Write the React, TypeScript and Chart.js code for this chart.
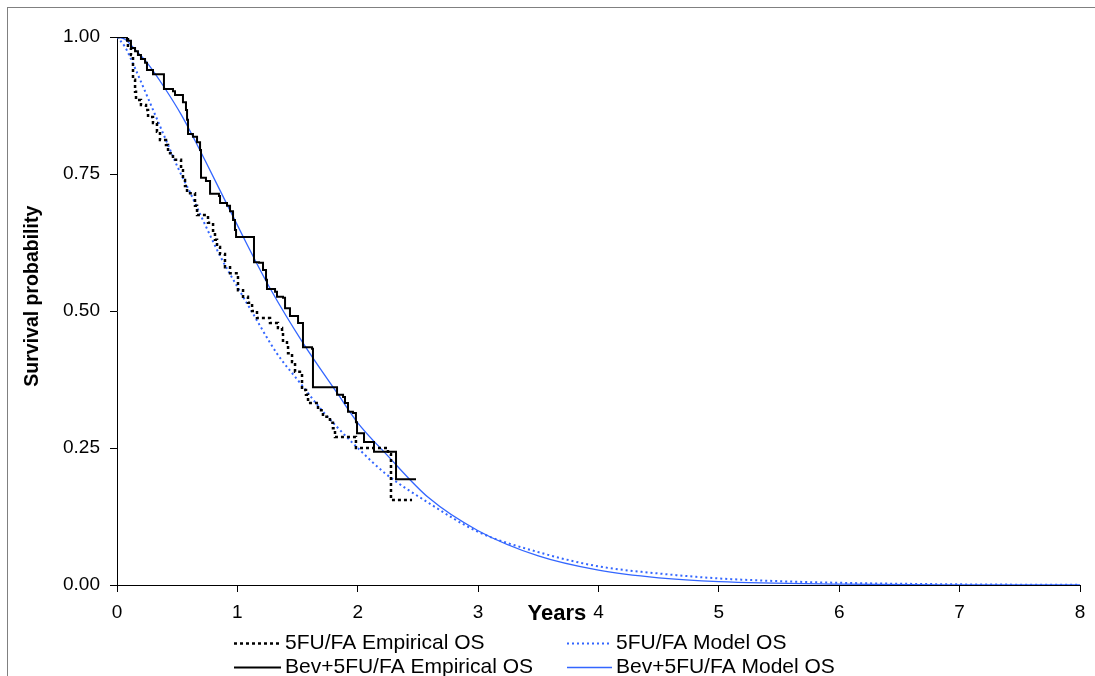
import React, { useEffect, useRef } from "react";
import { Chart, registerables } from "chart.js";

Chart.register(...registerables);

// ---------- DATA ----------
const xTickValues = [0, 1, 2, 3, 4, 5, 6, 7, 8];
const yTickValues = [0, 0.25, 0.5, 0.75, 1];

const seriesLabels = [
  "5FU/FA Empirical OS",
  "5FU/FA Model OS",
  "Bev+5FU/FA Empirical OS",
  "Bev+5FU/FA Model OS",
];
const xTitle = "Years";
const yTitle = "Survival probability";

// 5FU/FA Kaplan-Meier (empirical) – step times (years) and survival after each step
const fuEmpTime = [
  0, 0.091, 0.116, 0.133, 0.15, 0.158, 0.199, 0.241, 0.258, 0.299,
  0.332, 0.357, 0.407, 0.424, 0.465, 0.532, 0.548, 0.565, 0.582, 0.648,
  0.665, 0.756, 0.798, 0.814, 0.831, 0.856, 0.897, 0.939, 1.005, 1.047,
  1.088, 1.122, 1.163, 1.271, 1.337, 1.371, 1.379, 1.412, 1.421, 1.454,
  1.479, 1.537, 1.57, 1.587, 1.67, 1.711, 1.769, 1.794, 1.811, 1.985,
  2.251, 2.276, 2.451,
];
const fuEmpSurv = [
  1, 0.98, 0.967, 0.922, 0.9, 0.885, 0.876, 0.867, 0.854, 0.843,
  0.827, 0.812, 0.803, 0.788, 0.776, 0.757, 0.739, 0.728, 0.715, 0.692,
  0.675, 0.661, 0.644, 0.63, 0.617, 0.604, 0.58, 0.569, 0.538, 0.526,
  0.515, 0.5, 0.487, 0.478, 0.469, 0.46, 0.443, 0.438, 0.423, 0.407,
  0.389, 0.356, 0.347, 0.332, 0.319, 0.307, 0.296, 0.286, 0.27, 0.25,
  0.239, 0.155, 0.155,
];

// Bev+5FU/FA Kaplan-Meier (empirical)
const bevEmpTime = [
  0, 0.083, 0.116, 0.15, 0.174, 0.199, 0.233, 0.249, 0.299, 0.39,
  0.465, 0.482, 0.548, 0.573, 0.582, 0.59, 0.631, 0.665, 0.69, 0.698,
  0.739, 0.773, 0.847, 0.856, 0.914, 0.939, 0.964, 0.98, 0.989, 1.138,
  1.18, 1.213, 1.238, 1.246, 1.313, 1.329, 1.379, 1.396, 1.437, 1.504,
  1.545, 1.62, 1.628, 1.828, 1.878, 1.894, 1.919, 1.96, 1.985, 1.994,
  2.052, 2.135, 2.318, 2.484,
];
const bevEmpSurv = [
  1, 0.993, 0.98, 0.974, 0.967, 0.96, 0.953, 0.94, 0.932, 0.905,
  0.901, 0.894, 0.881, 0.867, 0.849, 0.823, 0.818, 0.808, 0.794, 0.743,
  0.737, 0.714, 0.71, 0.697, 0.692, 0.682, 0.666, 0.648, 0.635, 0.589,
  0.588, 0.575, 0.557, 0.54, 0.535, 0.526, 0.524, 0.505, 0.491, 0.478,
  0.434, 0.431, 0.361, 0.347, 0.343, 0.332, 0.316, 0.314, 0.297, 0.277,
  0.261, 0.243, 0.193, 0.193,
];

// 5FU/FA model curve
const fuModelTime = [
  0, 0.066, 0.15, 0.274, 0.399, 0.507, 0.61, 0.72, 0.86, 1.0, 1.13, 1.327,
  1.52, 1.686, 1.825, 2.019, 2.226, 2.573, 3.0, 3.5, 4.0, 4.5, 5.0, 5.5,
  6.0, 7.0, 8.0,
];
const fuModelSurv = [
  1, 0.982, 0.943, 0.88, 0.816, 0.761, 0.715, 0.663, 0.599, 0.544, 0.495,
  0.423, 0.369, 0.323, 0.289, 0.246, 0.204, 0.152, 0.097, 0.06, 0.034,
  0.021, 0.012, 0.007, 0.004, 0.0012, 0.0003,
];

// Bev+5FU/FA model curve
const bevModelTime = [
  0, 0.066, 0.15, 0.257, 0.399, 0.537, 0.62, 0.731, 0.924, 1.07, 1.27,
  1.55, 1.83, 2.0, 2.24, 2.59, 3.0, 3.5, 4.0, 4.5, 5.0, 6.0, 7.0, 8.0,
];
const bevModelSurv = [
  1, 0.996, 0.977, 0.951, 0.906, 0.857, 0.823, 0.775, 0.69, 0.626, 0.542,
  0.44, 0.35, 0.296, 0.238, 0.159, 0.099, 0.053, 0.027, 0.013, 0.006,
  0.0015, 0.0003, 0.0001,
];

const BLUE = "#3366ff";
const FONT = "'Liberation Sans', Arial, sans-serif";

const toXY = (xs: number[], ys: number[]) => xs.map((x, i) => ({ x, y: ys[i] }));

const annotations = {
  id: "annotations",
  afterDraw(chart: any) {
    const { ctx, scales } = chart;
    const xs = scales.x;
    const ys = scales.y;
    ctx.save();
    ctx.fillStyle = "#000";

    // Y axis title
    ctx.save();
    ctx.font = `bold 19.5px ${FONT}`;
    ctx.textAlign = "center";
    ctx.textBaseline = "middle";
    ctx.translate(33, ys.getPixelForValue(0.527));
    ctx.rotate(-Math.PI / 2);
    ctx.fillText(yTitle, 0, 0);
    ctx.restore();

    // X axis title (between 3 and 4, on tick-label row)
    ctx.font = `bold 22px ${FONT}`;
    ctx.textAlign = "center";
    ctx.textBaseline = "middle";
    ctx.fillText(xTitle, xs.getPixelForValue(3.655), xs.bottom - 62);

    // Legend (2 x 2)
    const cols = [
      { l0: 234, l1: 281, t: 285 },
      { l0: 567, l1: 612, t: 616 },
    ];
    const rows = [643, 667];
    ctx.font = `21px ${FONT}`;
    ctx.textAlign = "left";
    chart.data.datasets.forEach((ds: any, i: number) => {
      const c = cols[i % 2];
      const y = rows[Math.floor(i / 2)];
      ctx.save();
      ctx.strokeStyle = ds.borderColor;
      ctx.lineWidth = ds.borderWidth;
      ctx.setLineDash(ds.borderDash || []);
      ctx.beginPath();
      ctx.moveTo(c.l0, y + 0.5);
      ctx.lineTo(c.l1, y + 0.5);
      ctx.stroke();
      ctx.restore();
      ctx.fillStyle = "#000";
      ctx.fillText(ds.label, c.t, y);
    });
    ctx.restore();
  },
};

export default function App() {
  const ref = useRef<HTMLCanvasElement | null>(null);

  useEffect(() => {
    if (!ref.current) return;
    const chart = new Chart(ref.current, {
      type: "line",
      data: {
        datasets: [
          {
            label: seriesLabels[0],
            data: toXY(fuEmpTime, fuEmpSurv),
            borderColor: "#000",
            borderWidth: 2.5,
            borderDash: [3, 3],
            stepped: true,
            pointRadius: 0,
            fill: false,
          },
          {
            label: seriesLabels[1],
            data: toXY(fuModelTime, fuModelSurv),
            borderColor: BLUE,
            borderWidth: 2,
            borderDash: [2, 3],
            cubicInterpolationMode: "monotone",
            pointRadius: 0,
            fill: false,
          },
          {
            label: seriesLabels[2],
            data: toXY(bevEmpTime, bevEmpSurv),
            borderColor: "#000",
            borderWidth: 2,
            stepped: true,
            pointRadius: 0,
            fill: false,
          },
          {
            label: seriesLabels[3],
            data: toXY(bevModelTime, bevModelSurv),
            borderColor: BLUE,
            borderWidth: 1.3,
            cubicInterpolationMode: "monotone",
            pointRadius: 0,
            fill: false,
          },
        ],
      },
      options: {
        animation: false,
        responsive: false,
        layout: { padding: { top: 37, right: 15, left: 0, bottom: 0 } },
        plugins: { legend: { display: false }, tooltip: { enabled: false } },
        scales: {
          x: {
            type: "linear",
            min: 0,
            max: 8,
            afterFit: (s: any) => {
              s.height = 91;
            },
            afterBuildTicks: (s: any) => {
              s.ticks = xTickValues.map((v) => ({ value: v }));
            },
            ticks: {
              color: "#000",
              font: { family: FONT, size: 19 },
              padding: 9,
              maxRotation: 0,
              callback: (v: any) => String(v),
            },
            grid: { drawOnChartArea: false, drawTicks: true, tickLength: 7, color: "#000" },
            border: { color: "#000", width: 1 },
          },
          y: {
            type: "linear",
            min: 0,
            max: 1,
            afterFit: (s: any) => {
              s.width = 117;
            },
            afterBuildTicks: (s: any) => {
              s.ticks = yTickValues.map((v) => ({ value: v }));
            },
            ticks: {
              color: "#000",
              font: { family: FONT, size: 19 },
              padding: 10,
              callback: (v: any) => Number(v).toFixed(2),
            },
            grid: { drawOnChartArea: false, drawTicks: true, tickLength: 7, color: "#000" },
            border: { color: "#000", width: 1 },
          },
        },
      },
      plugins: [annotations],
    });
    return () => chart.destroy();
  }, []);

  return (
    <div
      style={{
        position: "absolute",
        left: 0,
        top: 0,
        width: 1095,
        height: 676,
        overflow: "hidden",
        background: "#fff",
      }}
    >
      <div
        style={{
          position: "absolute",
          left: 7,
          top: 7,
          width: 1300,
          height: 900,
          border: "1px solid #808080",
        }}
      />
      <canvas
        ref={ref}
        width={1095}
        height={676}
        style={{ position: "absolute", left: 0, top: 0 }}
      />
    </div>
  );
}
